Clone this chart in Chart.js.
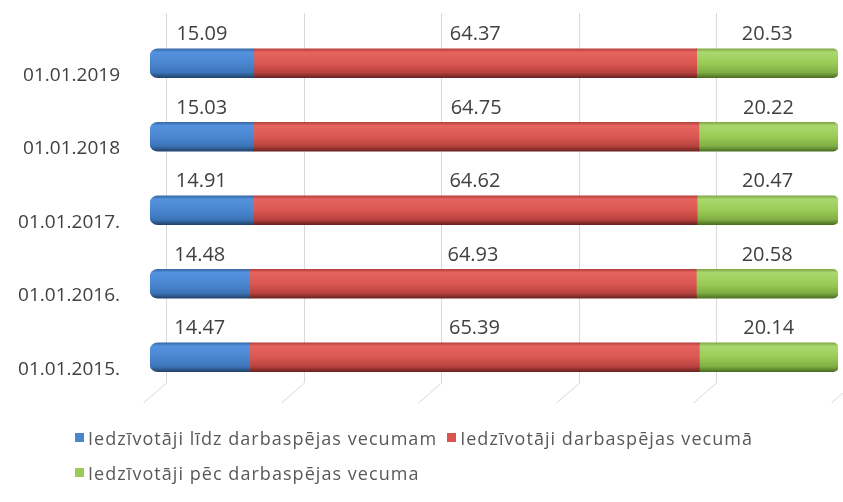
<!DOCTYPE html>
<html>
<head>
<meta charset="utf-8">
<script src="https://cdn.jsdelivr.net/npm/chart.js@4/dist/chart.umd.min.js"></script>
<style>
  body { margin: 0; background: #fff; }
  #wrap { position: relative; width: 843px; height: 502px; }
  #legend {
    position: absolute; left: 75px; top: 420px; width: 765px;
    display: flex; flex-wrap: wrap;
    font-family: "Open Sans", sans-serif; font-size: 18px; letter-spacing: 1.05px; color: #595959;
  }
  #legend .item { display: flex; align-items: center; height: 35px; margin-right: 10px; }
  #legend .box { width: 9px; height: 9px; margin-right: 4px; }
</style>
</head>
<body>
<div id="wrap">
  <canvas id="popChart" width="843" height="502"></canvas>
  <div id="legend"></div>
</div>
<script>
const dates = ["01.01.2019", "01.01.2018", "01.01.2017.", "01.01.2016.", "01.01.2015."];
const seriesNames = [
  "Iedzīvotāji līdz darbaspējas vecumam",
  "Iedzīvotāji darbaspējas vecumā",
  "Iedzīvotāji pēc darbaspējas vecuma"
];
const belowWorkAge = [15.09, 15.03, 14.91, 14.48, 14.47];
const workAge = [64.37, 64.75, 64.62, 64.93, 65.39];
const aboveWorkAge = [20.53, 20.22, 20.47, 20.58, 20.14];
const gridValues = [0, 20, 40, 60, 80, 100];

const flatColors = ["#4a86d0", "#d9534f", "#9bcb56"];
const shades = [
  ["#3568a8", "#5592de", "#4a86d0", "#3c74b8", "#22436b"],
  ["#b5403c", "#e6655f", "#db5752", "#b8423e", "#6a2220"],
  ["#7fa845", "#aad86e", "#9bcb56", "#80ae44", "#4b6e22"]
];
const BAR_H = 29;

function barFill(idx) {
  return (c) => {
    const y = c.chart.scales.y;
    if (c.type !== "data" || !y) return flatColors[idx];
    const mid = y.getPixelForValue(c.dataIndex);
    if (!isFinite(mid)) return flatColors[idx];
    const g = c.chart.ctx.createLinearGradient(0, mid - BAR_H / 2, 0, mid + BAR_H / 2);
    const s = shades[idx];
    g.addColorStop(0, s[0]);
    g.addColorStop(0.12, s[1]);
    g.addColorStop(0.5, s[2]);
    g.addColorStop(0.82, s[3]);
    g.addColorStop(1, s[4]);
    return g;
  };
}

// grid lines drawn like the 3D back wall + floor
const wallGrid = {
  id: "wallGrid",
  beforeDatasetsDraw(chart) {
    const ctx = chart.ctx;
    const x = chart.scales.x;
    ctx.save();
    ctx.strokeStyle = "#d9d9d9";
    ctx.lineWidth = 1;
    gridValues.forEach(v => {
      const px = Math.round(x.getPixelForValue(v) + 16) + 0.5;
      ctx.beginPath();
      ctx.moveTo(px, 13);
      ctx.lineTo(px, 383);
      ctx.lineTo(px - 23, 403);
      ctx.stroke();
    });
    ctx.restore();
  }
};

const valueLabels = {
  id: "valueLabels",
  afterDatasetsDraw(chart) {
    const ctx = chart.ctx;
    ctx.save();
    ctx.font = "20px 'Open Sans', sans-serif";
    ctx.fillStyle = "#404040";
    ctx.textAlign = "center";
    ctx.textBaseline = "middle";
    chart.data.datasets.forEach((ds, i) => {
      chart.getDatasetMeta(i).data.forEach((bar, j) => {
        const cx = (bar.x + bar.base) / 2;
        const cy = bar.y - bar.height / 2 - 14;
        ctx.fillText(ds.data[j].toFixed(2), cx, cy);
      });
    });
    ctx.restore();
  }
};

const datasets = [belowWorkAge, workAge, aboveWorkAge].map((vals, i) => ({
  label: seriesNames[i],
  data: vals,
  backgroundColor: barFill(i),
  borderWidth: 0,
  borderSkipped: false,
  borderRadius: i === 0 ? { topLeft: 8, bottomLeft: 8 } : i === 2 ? { topRight: 5, bottomRight: 5 } : 0,
  barThickness: BAR_H
}));

new Chart(document.getElementById("popChart"), {
  type: "bar",
  data: { labels: dates, datasets: datasets },
  options: {
    indexAxis: "y",
    responsive: false,
    animation: false,
    layout: { padding: { top: 26.5, bottom: 108, right: 5, left: 0 } },
    plugins: {
      legend: { display: false },
      tooltip: { enabled: false }
    },
    scales: {
      x: { stacked: true, min: 0, max: 100, display: false },
      y: {
        stacked: true,
        grid: { display: false, drawTicks: false },
        border: { display: false },
        afterFit: (scale) => {
          scale.width = 150;
          scale.paddingTop = 0;
          scale.paddingBottom = 0;
        },
        ticks: {
          padding: 30,
          labelOffset: 12,
          color: "#404040",
          font: { family: "'Open Sans', sans-serif", size: 19 }
        }
      }
    }
  },
  plugins: [wallGrid, valueLabels]
});

const legendEl = document.getElementById("legend");
seriesNames.forEach((name, i) => {
  const item = document.createElement("div");
  item.className = "item";
  const box = document.createElement("span");
  box.className = "box";
  box.style.background = flatColors[i];
  const txt = document.createElement("span");
  txt.textContent = name;
  item.appendChild(box);
  item.appendChild(txt);
  legendEl.appendChild(item);
});
</script>
</body>
</html>
